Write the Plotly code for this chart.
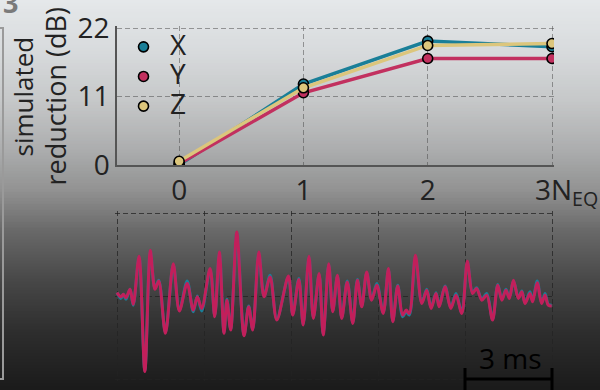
import plotly.graph_objects as go

# ---------------- data ----------------
steps = [0, 1, 2, 3]
step_labels = ["0", "1", "2"]
red_x = [0.0, 13.0, 19.9, 19.0]
red_y = [0.2, 11.6, 17.1, 17.1]
red_z = [0.6, 12.4, 19.2, 19.5]
y_ticks = [0, 11, 22]

wave_t = [0.00, 0.13, 0.22, 0.31, 0.45, 0.56, 0.76, 0.96, 1.15, 1.31, 1.44, 1.67, 1.94, 2.15,
          2.42, 2.63, 2.77, 2.92, 3.21, 3.37, 3.53, 3.69, 3.79, 3.92, 4.13, 4.38, 4.54, 4.68,
          4.89, 5.07, 5.28, 5.51, 5.91, 6.06, 6.27, 6.42, 6.62, 6.77, 6.97, 7.11, 7.30, 7.44,
          7.60, 7.75, 7.94, 8.13, 8.29, 8.44, 8.61, 8.78, 8.96, 9.18, 9.36, 9.51, 9.68, 9.85,
          9.97, 10.08, 10.29, 10.51, 10.68, 10.83, 11.00, 11.11, 11.31, 11.51, 11.69, 11.89,
          12.08, 12.26, 12.40, 12.58, 12.75, 12.95, 13.13, 13.27, 13.41, 13.53, 13.67, 13.84,
          13.96, 14.07, 14.24, 14.33, 14.49, 14.64, 14.76, 14.87, 14.99]
wave_pink = [0.04, -0.01, 0.02, -0.02, 0.08, -0.10, 0.48, -0.91, 0.55, 0.08, 0.18, -0.45, 0.39, -0.18,
             0.15, -0.17, -0.01, -0.15, 0.33, -0.25, 0.53, -0.45, -0.05, -0.41, 0.77, -0.48, -0.13, -0.41,
             0.53, -0.01, 0.23, -0.29, 0.24, -0.23, 0.20, -0.35, 0.48, -0.27, 0.27, -0.47, 0.39, -0.19,
             0.25, -0.27, 0.17, -0.33, 0.19, -0.13, 0.29, -0.05, 0.13, -0.21, 0.33, -0.31, 0.12, -0.23,
             -0.17, -0.21, 0.49, -0.09, 0.07, -0.15, 0.03, -0.13, 0.11, -0.15, 0.01, -0.21,
             0.42, 0.03, 0.09, -0.05, 0.01, -0.29, 0.13, -0.05, 0.07, -0.03, 0.19, -0.03,
             0.05, -0.09, 0.03, -0.07, 0.16, -0.09, 0.01, -0.11, -0.12]
wave_teal = [0.04, -0.03, 0.02, -0.04, 0.08, -0.11, 0.47, -0.90, 0.54, 0.09, 0.19, -0.44, 0.38, -0.17,
             0.18, -0.19, 0.00, -0.18, 0.32, -0.24, 0.52, -0.44, -0.04, -0.40, 0.76, -0.47, -0.12, -0.40,
             0.52, 0.00, 0.25, -0.28, 0.23, -0.22, 0.21, -0.34, 0.47, -0.26, 0.26, -0.46, 0.38, -0.18,
             0.24, -0.26, 0.18, -0.32, 0.20, -0.12, 0.28, -0.04, 0.15, -0.20, 0.32, -0.30, 0.13, -0.25,
             -0.19, -0.23, 0.48, -0.08, 0.08, -0.14, 0.04, -0.12, 0.12, -0.14, 0.03, -0.20,
             0.41, 0.04, 0.10, -0.04, 0.03, -0.28, 0.14, -0.04, 0.08, -0.02, 0.18, -0.02,
             0.06, -0.08, 0.05, -0.06, 0.18, -0.08, 0.03, -0.10, -0.11]
scale_start, scale_len = 12, 3  # ms

# ---------------- styling ----------------
W, H = 600, 390
FONT = "Open Sans"
TXT = "#222222"
C_X, C_Y, C_Z = "#1a7f98", "#c2305f", "#dcc67c"
C_PINK = "#c21f5b"
GRID_TOP = "rgba(70,70,70,0.5)"
GRID_BOT = "rgba(35,35,35,0.75)"
DASH = "5px,3px"
E = 2  # px of slack so gridlines on the frame edges are kept

# top panel geometry (px)
L, R, T1, B1 = 117, 552, 28, 165
T2, B2 = 213, 379
ux = (R - L) / 3.5           # px per step
uy = (B1 - T1) / 22          # px per dB
xr_top = [-0.5, 3 + E / ux]
yr_top = [0, 22 + E / uy]
xdom = [L / W, (R + E) / W]
top_dom = [1 - B1 / H, 1 - (T1 - E) / H]

ut = (R - L) / 15            # px per ms
ua = (B2 - T2) / 2           # px per amplitude unit
xr_bot = [-E / ut, 15 + E / ut]
yr_bot = [-1 - E / ua, 1 + E / ua]
xdom2 = [(L - E) / W, (R + E) / W]
bot_dom = [1 - (B2 + E) / H, 1 - (T2 - E) / H]

fig = go.Figure()

for name, vals, col in [("X", red_x, C_X), ("Y", red_y, C_Y), ("Z", red_z, C_Z)]:
    fig.add_trace(go.Scatter(x=steps, y=vals, mode="lines+markers", showlegend=False,
                             line=dict(color=col, width=3.4),
                             marker=dict(color=col, size=10, line=dict(color="black", width=1.6)),
                             xaxis="x", yaxis="y"))
for name, col in [("X", C_X), ("Y", C_Y), ("Z", C_Z)]:
    fig.add_trace(go.Scatter(x=[None], y=[None], mode="markers",
                             name=f"<span style='font-size:28px'>{name}</span>",
                             marker=dict(color=col, size=10, line=dict(color="black", width=1.6)),
                             xaxis="x", yaxis="y"))

fig.add_trace(go.Scatter(x=wave_t, y=wave_teal, mode="lines", showlegend=False,
                         line=dict(color=C_X, width=3, shape="spline", smoothing=0.9),
                         xaxis="x2", yaxis="y2"))
fig.add_trace(go.Scatter(x=wave_t, y=wave_pink, mode="lines", showlegend=False,
                         line=dict(color=C_PINK, width=3, shape="spline", smoothing=0.9),
                         xaxis="x2", yaxis="y2"))

# background gradient
stops = [(0, (229, 232, 234)), (50, (216, 219, 221)), (100, (198, 200, 201)), (150, (172, 173, 174)),
         (190, (146, 146, 146)), (230, (106, 106, 106)), (280, (72, 72, 72)), (330, (47, 47, 47)),
         (390, (26, 26, 26))]


def col_at(y):
    for (y0, c0), (y1, c1) in zip(stops[:-1], stops[1:]):
        if y0 <= y <= y1:
            f = (y - y0) / (y1 - y0)
            return "rgb(%d,%d,%d)" % tuple(round(a + (b - a) * f) for a, b in zip(c0, c1))
    return "rgb(26,26,26)"


shapes = []
step = 3
for yy in range(0, H, step):
    shapes.append(dict(type="rect", xref="paper", yref="paper", x0=0, x1=1,
                       y0=1 - (yy + step) / H, y1=1 - yy / H + 0.0005,
                       fillcolor=col_at(yy + step / 2), line=dict(width=0), layer="below"))
# left panel frame
shapes.append(dict(type="rect", xref="paper", yref="paper", x0=-5 / W, x1=3 / W,
                   y0=1 - 379 / H, y1=1 - 28 / H, line=dict(color="#9a9a9a", width=2),
                   fillcolor="rgba(0,0,0,0)", layer="above"))


# scale bar (ms -> paper)
def t2p(t):
    return (L + t * ut) / W


sb0, sb1 = t2p(scale_start), t2p(scale_start + scale_len)
bar = dict(color="black", width=3)
shapes += [
    dict(type="line", xref="paper", yref="paper", x0=sb0, x1=sb1, y0=1 - 379 / H, y1=1 - 379 / H, line=bar),
    dict(type="line", xref="paper", yref="paper", x0=sb0, x1=sb0, y0=1 - 368 / H, y1=1 - 392 / H, line=bar),
    dict(type="line", xref="paper", yref="paper", x0=sb1, x1=sb1, y0=1 - 368 / H, y1=1 - 392 / H, line=bar),
]

annotations = [
    dict(text="simulated", x=22 / W, y=1 - 96.5 / H, xref="paper", yref="paper", textangle=-90,
         showarrow=False, font=dict(family=FONT, size=26, color=TXT), xanchor="center", yanchor="middle"),
    dict(text="reduction (dB)", x=55 / W, y=1 - 96.5 / H, xref="paper", yref="paper", textangle=-90,
         showarrow=False, font=dict(family=FONT, size=27, color=TXT), xanchor="center", yanchor="middle"),
    dict(text="3N<sub>EQ</sub>", x=533 / W, y=1 - 191 / H, xref="paper", yref="paper", showarrow=False,
         font=dict(family=FONT, size=28, color=TXT), xanchor="left", yanchor="middle"),
    dict(text="3 ms", x=(sb0 + sb1) / 2 + 2 / W, y=1 - 358 / H, xref="paper", yref="paper", showarrow=False,
         font=dict(family=FONT, size=28, color="black"), xanchor="center", yanchor="middle"),
    dict(text="<b>3</b>", x=1 / W, y=1 - 3 / H, xref="paper", yref="paper", showarrow=False,
         font=dict(family=FONT, size=27, color="#7a7a7a"), xanchor="left", yanchor="middle"),
]

grid_common = dict(showgrid=True, gridwidth=1, griddash=DASH, zeroline=False, ticks="", automargin=False)

fig.update_layout(
    width=W, height=H, margin=dict(l=0, r=0, t=0, b=0, pad=0, autoexpand=False),
    paper_bgcolor="#1a1a1a", plot_bgcolor="rgba(0,0,0,0)",
    font=dict(family=FONT, size=28, color=TXT),
    shapes=shapes, annotations=annotations,
    showlegend=True,
    legend=dict(x=117 / W, y=1 - 27 / H, xanchor="left", yanchor="top", bgcolor="rgba(0,0,0,0)",
                font=dict(family=FONT, size=20.5, color=TXT), itemwidth=43, tracegroupgap=0),
    xaxis=dict(domain=xdom, range=xr_top, tickvals=steps[:3], ticktext=step_labels,
               gridcolor=GRID_TOP, showline=True, linecolor="#555555", linewidth=1.5,
               minor=dict(tickvals=steps[3:], showgrid=True, gridcolor=GRID_TOP, griddash=DASH,
                          gridwidth=1, ticks=""),
               tickfont=dict(family=FONT, size=28, color=TXT), anchor="y", **grid_common),
    yaxis=dict(domain=top_dom, range=yr_top, tickvals=y_ticks,
               gridcolor=GRID_TOP, showline=True, linecolor="#555555", linewidth=1.5,
               tickfont=dict(family=FONT, size=28, color=TXT), anchor="x", **grid_common),
    xaxis2=dict(domain=xdom2, range=xr_bot, dtick=3, tick0=0, showticklabels=False,
                gridcolor=GRID_BOT, showline=False, anchor="y2", **grid_common),
    yaxis2=dict(domain=bot_dom, range=yr_bot, dtick=1, tick0=0, showticklabels=False,
                gridcolor=GRID_BOT, showline=False, anchor="x2", **grid_common),
)

fig.write_html("out.html")
